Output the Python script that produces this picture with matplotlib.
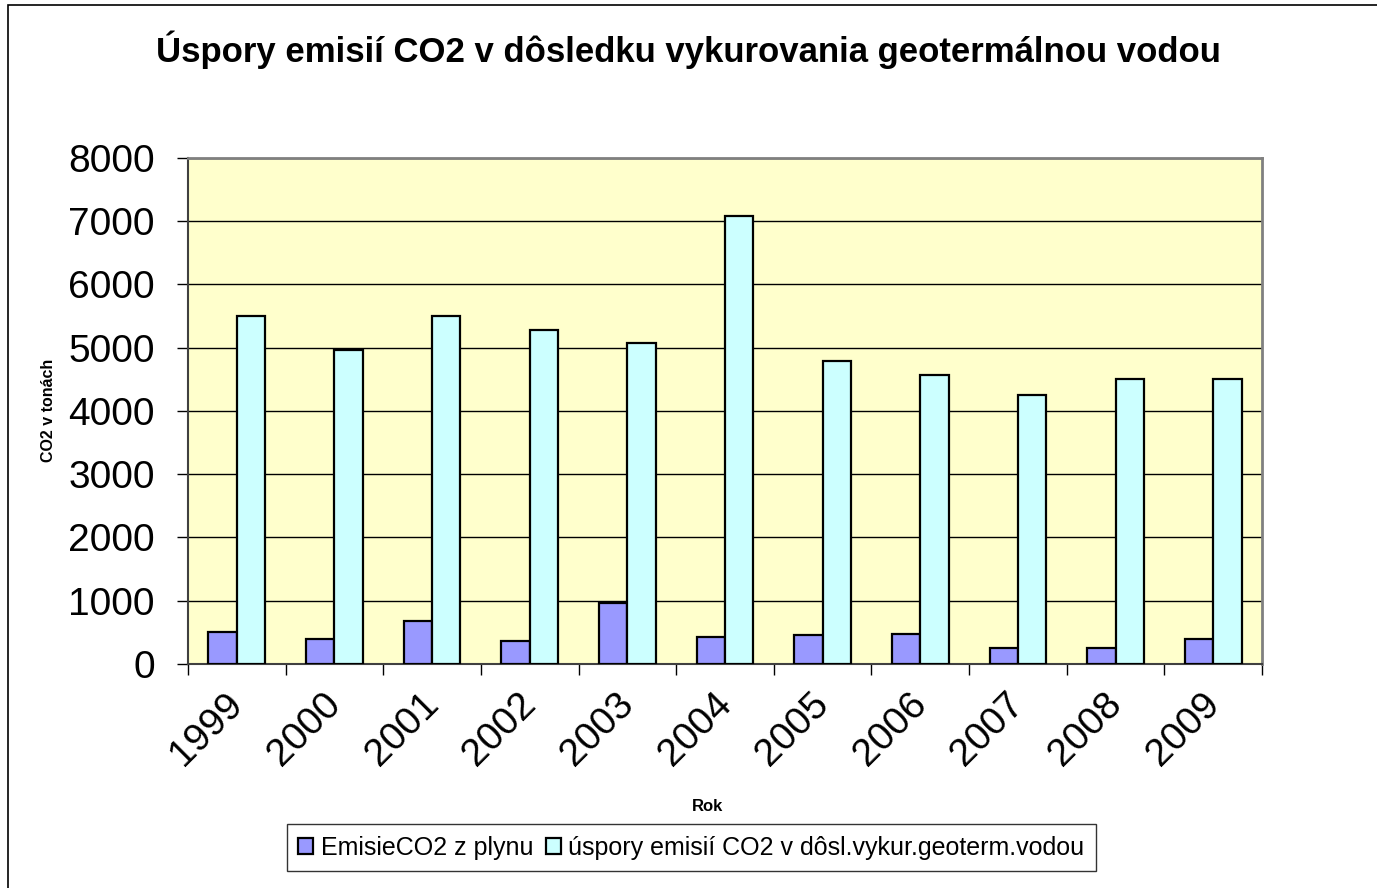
import matplotlib.pyplot as plt
import matplotlib.patches as mpatches
import matplotlib.transforms as mtransforms
import numpy as np

plt.rcParams['font.family'] = ['Liberation Sans', 'DejaVu Sans']

roky = ['1999', '2000', '2001', '2002', '2003', '2004', '2005', '2006', '2007', '2008', '2009']
emisie_plyn = [500, 400, 680, 360, 960, 430, 460, 470, 250, 250, 400]
uspory = [5500, 4970, 5500, 5280, 5075, 7080, 4790, 4570, 4250, 4500, 4500]

fig = plt.figure(figsize=(13.77, 8.88), dpi=100)
ax = fig.add_axes([0.1365, 0.2523, 0.78, 0.5698])
ax.set_facecolor('#FFFFCC')

x = np.arange(len(roky))
w = 0.29
ax.bar(x - w/2, emisie_plyn, w, color='#9999FF', edgecolor='black', linewidth=1.6,
       label='EmisieCO2 z plynu', zorder=3)
ax.bar(x + w/2, uspory, w, color='#CCFFFF', edgecolor='black', linewidth=1.6,
       label='úspory emisií CO2 v dôsl.vykur.geoterm.vodou', zorder=3)

ax.set_ylim(0, 8000)
ax.set_yticks(range(0, 8001, 1000))
ax.set_xlim(-0.5, len(roky) - 0.5)
ax.yaxis.grid(True, color='black', linewidth=1, zorder=1)

# popisky rokov na stredoch, zarazky na hraniciach
ax.set_xticks(x)
ax.set_xticklabels(roky, rotation=45, ha='right', rotation_mode='anchor', fontsize=28)
ax.set_xticks(np.arange(-0.5, len(roky)), minor=True)
ax.tick_params(axis='x', which='major', length=0, pad=16)
ax.tick_params(axis='x', which='minor', length=8, width=1, color='black')
ax.tick_params(axis='y', labelsize=28, length=8, width=1, pad=16)
posun = mtransforms.ScaledTranslation(-12/100, 0, fig.dpi_scale_trans)
for lab in ax.get_xticklabels():
    lab.set_transform(lab.get_transform() + posun)

for s in ['top', 'right']:
    ax.spines[s].set_color('#808080')
    ax.spines[s].set_linewidth(2)
for s in ['left', 'bottom']:
    ax.spines[s].set_color('#404040')
    ax.spines[s].set_linewidth(1.5)

fig.text(0.5, 0.944, 'Úspory emisií CO2 v dôsledku vykurovania geotermálnou vodou',
         ha='center', va='center', fontsize=25, fontweight='bold')
fig.text(0.035, 0.538, 'CO2 v tonách', rotation=90, ha='center', va='center',
         fontsize=11.5, fontweight='bold')
fig.text(0.514, 0.092, 'Rok', ha='center', va='center', fontsize=12, fontweight='bold')

leg = fig.legend(loc='center', bbox_to_anchor=(0.502, 0.0456), ncol=2, fontsize=18,
                 frameon=True, fancybox=False, edgecolor='black', handlelength=0.6,
                 handleheight=0.6, handletextpad=0.3, columnspacing=0.5, borderpad=0.45)
leg.get_frame().set_linewidth(1)

# ramik okolo celeho grafu
fig.patches.append(mpatches.Rectangle((8/1377, -0.1), 1.2, 1.1 - 5/888,
                                      transform=fig.transFigure, fill=False,
                                      edgecolor='black', linewidth=1.2))

fig.savefig('out.png', dpi=100)
